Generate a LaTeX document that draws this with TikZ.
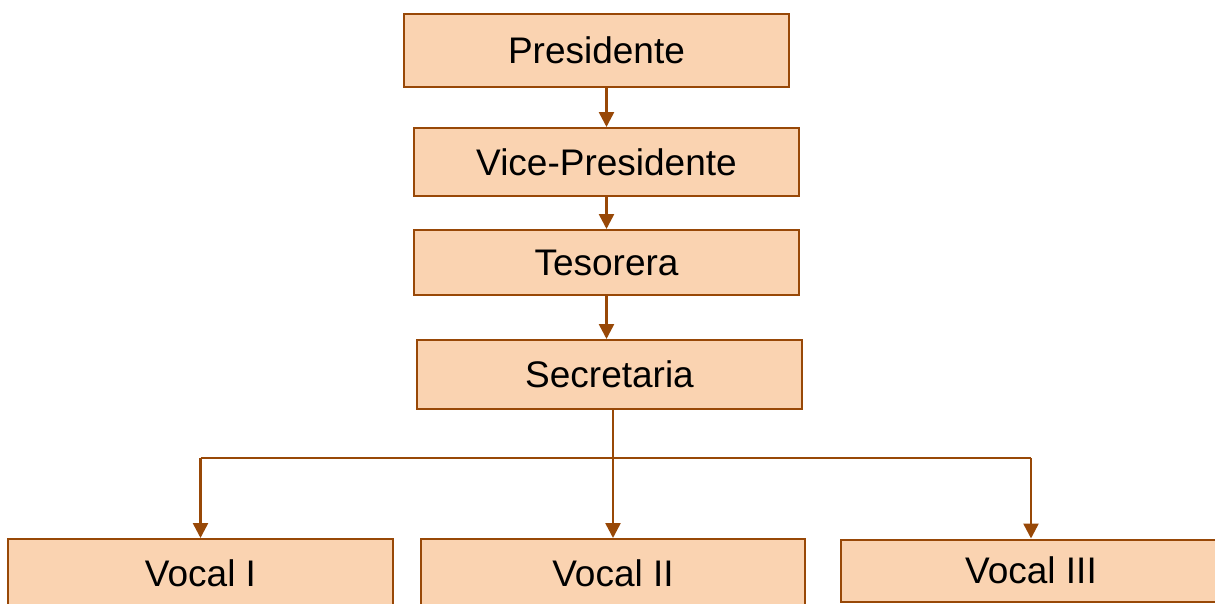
\documentclass[tikz,border=0pt]{standalone}
\usepackage{fontspec}
\setmainfont{Liberation Sans}
\usetikzlibrary{arrows.meta}
\definecolor{boxfill}{HTML}{FAD3B1}
\definecolor{boxline}{HTML}{984807}
\tikzset{
  orgbox/.style={draw=boxline, fill=boxfill, line width=2pt, rectangle, inner sep=0pt,
    minimum width=385pt, font=\fontsize{37}{41}\selectfont, text=black},
  conn/.style={draw=boxline, line width=2.5pt},
  arr/.style={conn, -{Triangle[width=15pt,length=15pt]}}
}
\begin{document}
\begin{tikzpicture}[x=1pt,y=-1pt]
\useasboundingbox (0,0) rectangle (1215,603);
\clip (0,0) rectangle (1215,603);
\node[orgbox, minimum height=73pt] (pres) at (596.5,50.5) {Presidente};
\node[orgbox, minimum height=68pt] (vice) at (606.5,162) {Vice-Presidente};
\node[orgbox, minimum height=65pt] (tes) at (606.5,262.5) {Tesorera};
\node[orgbox, minimum height=69pt] (sec) at (609.5,374.5) {Secretaria};
\node[orgbox, minimum height=68pt] (v1) at (200.5,573) {Vocal I};
\node[orgbox, minimum height=68pt, minimum width=384pt] (v2) at (613,573) {Vocal II};
\node[orgbox, minimum height=62pt, minimum width=380pt] (v3) at (1031,570.5) {Vocal III};
\coordinate (bus) at (0,458);
\draw[arr] (vice.north |- pres.south) -- (vice.north);
\draw[arr] (tes.north |- vice.south) -- (tes.north);
\draw[arr] (tes.south) -- (tes.south |- sec.north);
\draw[arr] (v2.north |- sec.south) -- (v2.north);
\draw[conn] (v1.north |- bus) -- (v3.north |- bus);
\draw[arr] (v1.north |- bus) -- (v1.north);
\draw[arr] (v3.north |- bus) -- (v3.north);
\end{tikzpicture}
\end{document}
